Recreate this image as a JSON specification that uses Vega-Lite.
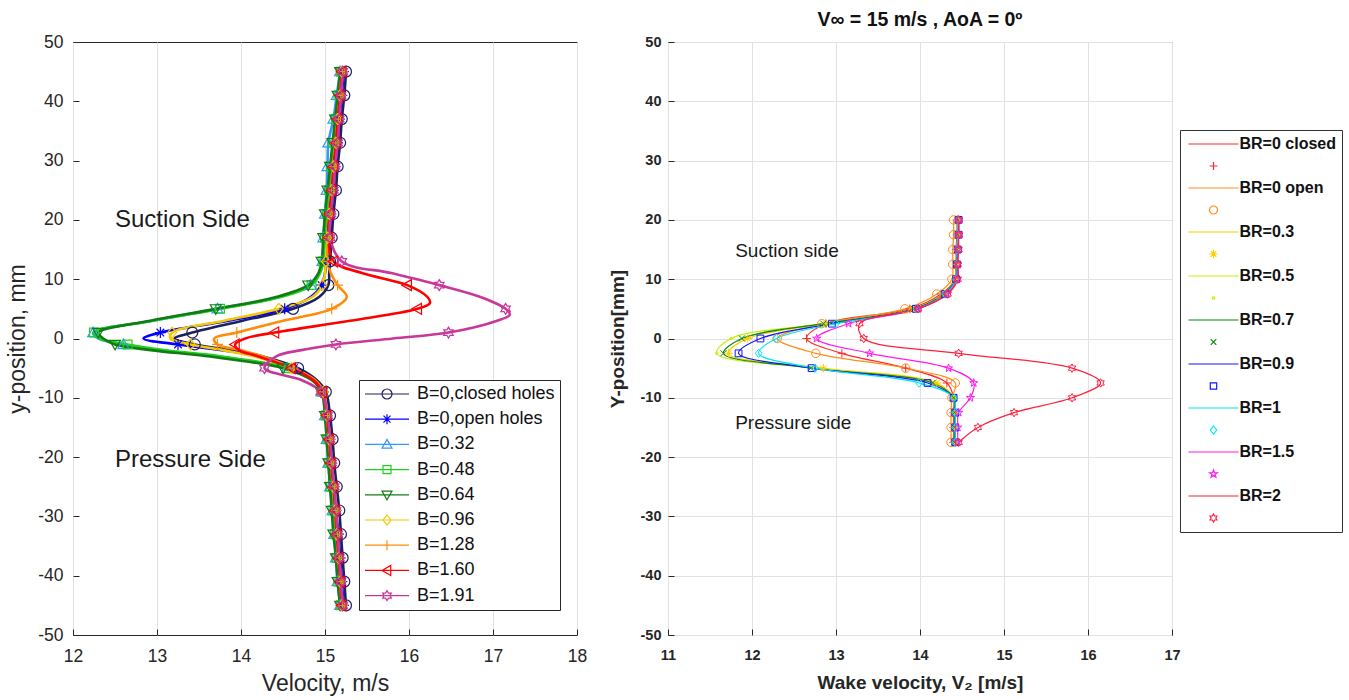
{
"$schema": "https://vega.github.io/schema/vega-lite/v6.json",
"background": "white",
"padding": {"left": 6, "top": 9, "right": 5, "bottom": 3},
"spacing": 19,
"bounds": "full",
"resolve": {"scale": {"color": "independent", "shape": "independent"}, "legend": {"color": "independent", "shape": "independent"}},
"datasets": {
"left": [
{"s":"B=0,closed holes","y":45,"v":15.25,"m":1},{"s":"B=0,closed holes","y":41,"v":15.23,"m":1},{"s":"B=0,closed holes","y":37,"v":15.2,"m":1},{"s":"B=0,closed holes","y":33,"v":15.18,"m":1},{"s":"B=0,closed holes","y":29,"v":15.15,"m":1},{"s":"B=0,closed holes","y":25,"v":15.13,"m":1},{"s":"B=0,closed holes","y":21,"v":15.1,"m":1},{"s":"B=0,closed holes","y":17,"v":15.08,"m":1},{"s":"B=0,closed holes","y":13,"v":15.06,"m":1},{"s":"B=0,closed holes","y":11,"v":15.05,"m":0},{"s":"B=0,closed holes","y":9,"v":15.04,"m":1},{"s":"B=0,closed holes","y":7,"v":14.93,"m":0},{"s":"B=0,closed holes","y":5,"v":14.62,"m":1},{"s":"B=0,closed holes","y":3,"v":14.02,"m":0},{"s":"B=0,closed holes","y":1,"v":13.42,"m":1},{"s":"B=0,closed holes","y":0,"v":13.21,"m":0},{"s":"B=0,closed holes","y":-1,"v":13.45,"m":1},{"s":"B=0,closed holes","y":-2,"v":13.9,"m":0},{"s":"B=0,closed holes","y":-3,"v":14.25,"m":0},{"s":"B=0,closed holes","y":-5,"v":14.68,"m":1},{"s":"B=0,closed holes","y":-7,"v":14.9,"m":0},{"s":"B=0,closed holes","y":-9,"v":15.01,"m":1},{"s":"B=0,closed holes","y":-13,"v":15.06,"m":1},{"s":"B=0,closed holes","y":-17,"v":15.09,"m":1},{"s":"B=0,closed holes","y":-21,"v":15.11,"m":1},{"s":"B=0,closed holes","y":-25,"v":15.14,"m":1},{"s":"B=0,closed holes","y":-29,"v":15.17,"m":1},{"s":"B=0,closed holes","y":-33,"v":15.19,"m":1},{"s":"B=0,closed holes","y":-37,"v":15.21,"m":1},{"s":"B=0,closed holes","y":-41,"v":15.23,"m":1},{"s":"B=0,closed holes","y":-45,"v":15.25,"m":1},
{"s":"B=0,open holes","y":45,"v":15.22,"m":1},{"s":"B=0,open holes","y":41,"v":15.2,"m":1},{"s":"B=0,open holes","y":37,"v":15.17,"m":1},{"s":"B=0,open holes","y":33,"v":15.15,"m":1},{"s":"B=0,open holes","y":29,"v":15.12,"m":1},{"s":"B=0,open holes","y":25,"v":15.1,"m":1},{"s":"B=0,open holes","y":21,"v":15.07,"m":1},{"s":"B=0,open holes","y":17,"v":15.05,"m":1},{"s":"B=0,open holes","y":13,"v":15.02,"m":1},{"s":"B=0,open holes","y":11,"v":15.0,"m":0},{"s":"B=0,open holes","y":9,"v":14.96,"m":1},{"s":"B=0,open holes","y":7,"v":14.83,"m":0},{"s":"B=0,open holes","y":5,"v":14.52,"m":1},{"s":"B=0,open holes","y":3,"v":13.85,"m":0},{"s":"B=0,open holes","y":1,"v":13.04,"m":1},{"s":"B=0,open holes","y":0,"v":12.84,"m":0},{"s":"B=0,open holes","y":-1,"v":13.25,"m":1},{"s":"B=0,open holes","y":-2,"v":13.8,"m":0},{"s":"B=0,open holes","y":-3,"v":14.2,"m":0},{"s":"B=0,open holes","y":-5,"v":14.63,"m":1},{"s":"B=0,open holes","y":-7,"v":14.88,"m":0},{"s":"B=0,open holes","y":-9,"v":14.98,"m":1},{"s":"B=0,open holes","y":-13,"v":15.03,"m":1},{"s":"B=0,open holes","y":-17,"v":15.06,"m":1},{"s":"B=0,open holes","y":-21,"v":15.08,"m":1},{"s":"B=0,open holes","y":-25,"v":15.11,"m":1},{"s":"B=0,open holes","y":-29,"v":15.13,"m":1},{"s":"B=0,open holes","y":-33,"v":15.16,"m":1},{"s":"B=0,open holes","y":-37,"v":15.18,"m":1},{"s":"B=0,open holes","y":-41,"v":15.2,"m":1},{"s":"B=0,open holes","y":-45,"v":15.22,"m":1},
{"s":"B=0.32","y":45,"v":15.18,"m":1},{"s":"B=0.32","y":41,"v":15.14,"m":1},{"s":"B=0.32","y":37,"v":15.1,"m":1},{"s":"B=0.32","y":33,"v":15.04,"m":1},{"s":"B=0.32","y":29,"v":15.03,"m":1},{"s":"B=0.32","y":25,"v":15.02,"m":1},{"s":"B=0.32","y":21,"v":15.0,"m":1},{"s":"B=0.32","y":17,"v":14.98,"m":1},{"s":"B=0.32","y":13,"v":14.97,"m":1},{"s":"B=0.32","y":11,"v":14.93,"m":0},{"s":"B=0.32","y":9,"v":14.83,"m":1},{"s":"B=0.32","y":7,"v":14.45,"m":0},{"s":"B=0.32","y":5,"v":13.72,"m":1},{"s":"B=0.32","y":3,"v":12.95,"m":0},{"s":"B=0.32","y":1,"v":12.24,"m":1},{"s":"B=0.32","y":0,"v":12.3,"m":0},{"s":"B=0.32","y":-1,"v":12.6,"m":1},{"s":"B=0.32","y":-2,"v":13.05,"m":0},{"s":"B=0.32","y":-3,"v":13.7,"m":0},{"s":"B=0.32","y":-5,"v":14.55,"m":1},{"s":"B=0.32","y":-7,"v":14.85,"m":0},{"s":"B=0.32","y":-9,"v":14.96,"m":1},{"s":"B=0.32","y":-13,"v":15.0,"m":1},{"s":"B=0.32","y":-17,"v":15.02,"m":1},{"s":"B=0.32","y":-21,"v":15.04,"m":1},{"s":"B=0.32","y":-25,"v":15.06,"m":1},{"s":"B=0.32","y":-29,"v":15.09,"m":1},{"s":"B=0.32","y":-33,"v":15.11,"m":1},{"s":"B=0.32","y":-37,"v":15.13,"m":1},{"s":"B=0.32","y":-41,"v":15.15,"m":1},{"s":"B=0.32","y":-45,"v":15.18,"m":1},
{"s":"B=0.48","y":45,"v":15.19,"m":1},{"s":"B=0.48","y":41,"v":15.16,"m":1},{"s":"B=0.48","y":37,"v":15.13,"m":1},{"s":"B=0.48","y":33,"v":15.1,"m":1},{"s":"B=0.48","y":29,"v":15.07,"m":1},{"s":"B=0.48","y":25,"v":15.05,"m":1},{"s":"B=0.48","y":21,"v":15.02,"m":1},{"s":"B=0.48","y":17,"v":15.0,"m":1},{"s":"B=0.48","y":13,"v":14.98,"m":1},{"s":"B=0.48","y":11,"v":14.94,"m":0},{"s":"B=0.48","y":9,"v":14.84,"m":1},{"s":"B=0.48","y":7,"v":14.47,"m":0},{"s":"B=0.48","y":5,"v":13.75,"m":1},{"s":"B=0.48","y":3,"v":12.95,"m":0},{"s":"B=0.48","y":1,"v":12.25,"m":1},{"s":"B=0.48","y":0,"v":12.32,"m":0},{"s":"B=0.48","y":-1,"v":12.65,"m":1},{"s":"B=0.48","y":-2,"v":13.1,"m":0},{"s":"B=0.48","y":-3,"v":13.75,"m":0},{"s":"B=0.48","y":-5,"v":14.57,"m":1},{"s":"B=0.48","y":-7,"v":14.86,"m":0},{"s":"B=0.48","y":-9,"v":14.97,"m":1},{"s":"B=0.48","y":-13,"v":15.01,"m":1},{"s":"B=0.48","y":-17,"v":15.03,"m":1},{"s":"B=0.48","y":-21,"v":15.05,"m":1},{"s":"B=0.48","y":-25,"v":15.07,"m":1},{"s":"B=0.48","y":-29,"v":15.1,"m":1},{"s":"B=0.48","y":-33,"v":15.12,"m":1},{"s":"B=0.48","y":-37,"v":15.14,"m":1},{"s":"B=0.48","y":-41,"v":15.16,"m":1},{"s":"B=0.48","y":-45,"v":15.19,"m":1},
{"s":"B=0.64","y":45,"v":15.18,"m":1},{"s":"B=0.64","y":41,"v":15.15,"m":1},{"s":"B=0.64","y":37,"v":15.12,"m":1},{"s":"B=0.64","y":33,"v":15.09,"m":1},{"s":"B=0.64","y":29,"v":15.06,"m":1},{"s":"B=0.64","y":25,"v":15.03,"m":1},{"s":"B=0.64","y":21,"v":15.0,"m":1},{"s":"B=0.64","y":17,"v":14.98,"m":1},{"s":"B=0.64","y":13,"v":14.96,"m":1},{"s":"B=0.64","y":11,"v":14.92,"m":0},{"s":"B=0.64","y":9,"v":14.8,"m":1},{"s":"B=0.64","y":7,"v":14.42,"m":0},{"s":"B=0.64","y":5,"v":13.7,"m":1},{"s":"B=0.64","y":3,"v":12.92,"m":0},{"s":"B=0.64","y":1,"v":12.3,"m":1},{"s":"B=0.64","y":0,"v":12.36,"m":0},{"s":"B=0.64","y":-1,"v":12.5,"m":1},{"s":"B=0.64","y":-2,"v":12.95,"m":0},{"s":"B=0.64","y":-3,"v":13.6,"m":0},{"s":"B=0.64","y":-5,"v":14.5,"m":1},{"s":"B=0.64","y":-7,"v":14.84,"m":0},{"s":"B=0.64","y":-9,"v":14.96,"m":1},{"s":"B=0.64","y":-13,"v":15.0,"m":1},{"s":"B=0.64","y":-17,"v":15.02,"m":1},{"s":"B=0.64","y":-21,"v":15.04,"m":1},{"s":"B=0.64","y":-25,"v":15.06,"m":1},{"s":"B=0.64","y":-29,"v":15.08,"m":1},{"s":"B=0.64","y":-33,"v":15.1,"m":1},{"s":"B=0.64","y":-37,"v":15.13,"m":1},{"s":"B=0.64","y":-41,"v":15.15,"m":1},{"s":"B=0.64","y":-45,"v":15.18,"m":1},
{"s":"B=0.96","y":45,"v":15.2,"m":1},{"s":"B=0.96","y":41,"v":15.18,"m":1},{"s":"B=0.96","y":37,"v":15.15,"m":1},{"s":"B=0.96","y":33,"v":15.13,"m":1},{"s":"B=0.96","y":29,"v":15.1,"m":1},{"s":"B=0.96","y":25,"v":15.08,"m":1},{"s":"B=0.96","y":21,"v":15.05,"m":1},{"s":"B=0.96","y":17,"v":15.03,"m":1},{"s":"B=0.96","y":13,"v":15.01,"m":1},{"s":"B=0.96","y":11,"v":15.0,"m":0},{"s":"B=0.96","y":9,"v":14.97,"m":1},{"s":"B=0.96","y":7,"v":14.85,"m":0},{"s":"B=0.96","y":5,"v":14.45,"m":1},{"s":"B=0.96","y":3,"v":13.8,"m":0},{"s":"B=0.96","y":1,"v":13.18,"m":1},{"s":"B=0.96","y":0,"v":13.16,"m":0},{"s":"B=0.96","y":-1,"v":13.4,"m":1},{"s":"B=0.96","y":-2,"v":13.8,"m":0},{"s":"B=0.96","y":-3,"v":14.15,"m":0},{"s":"B=0.96","y":-5,"v":14.6,"m":1},{"s":"B=0.96","y":-7,"v":14.87,"m":0},{"s":"B=0.96","y":-9,"v":14.98,"m":1},{"s":"B=0.96","y":-13,"v":15.02,"m":1},{"s":"B=0.96","y":-17,"v":15.05,"m":1},{"s":"B=0.96","y":-21,"v":15.07,"m":1},{"s":"B=0.96","y":-25,"v":15.1,"m":1},{"s":"B=0.96","y":-29,"v":15.12,"m":1},{"s":"B=0.96","y":-33,"v":15.14,"m":1},{"s":"B=0.96","y":-37,"v":15.16,"m":1},{"s":"B=0.96","y":-41,"v":15.18,"m":1},{"s":"B=0.96","y":-45,"v":15.2,"m":1},
{"s":"B=1.28","y":45,"v":15.21,"m":1},{"s":"B=1.28","y":41,"v":15.19,"m":1},{"s":"B=1.28","y":37,"v":15.16,"m":1},{"s":"B=1.28","y":33,"v":15.13,"m":1},{"s":"B=1.28","y":29,"v":15.11,"m":1},{"s":"B=1.28","y":25,"v":15.08,"m":1},{"s":"B=1.28","y":21,"v":15.06,"m":1},{"s":"B=1.28","y":17,"v":15.04,"m":1},{"s":"B=1.28","y":13,"v":15.03,"m":1},{"s":"B=1.28","y":11,"v":15.07,"m":0},{"s":"B=1.28","y":9,"v":15.15,"m":1},{"s":"B=1.28","y":7,"v":15.26,"m":0},{"s":"B=1.28","y":5,"v":15.08,"m":1},{"s":"B=1.28","y":3,"v":14.5,"m":0},{"s":"B=1.28","y":1,"v":13.95,"m":1},{"s":"B=1.28","y":0,"v":13.68,"m":0},{"s":"B=1.28","y":-1,"v":13.72,"m":1},{"s":"B=1.28","y":-2,"v":14.0,"m":0},{"s":"B=1.28","y":-3,"v":14.25,"m":0},{"s":"B=1.28","y":-5,"v":14.62,"m":1},{"s":"B=1.28","y":-7,"v":14.88,"m":0},{"s":"B=1.28","y":-9,"v":14.98,"m":1},{"s":"B=1.28","y":-13,"v":15.03,"m":1},{"s":"B=1.28","y":-17,"v":15.06,"m":1},{"s":"B=1.28","y":-21,"v":15.08,"m":1},{"s":"B=1.28","y":-25,"v":15.11,"m":1},{"s":"B=1.28","y":-29,"v":15.13,"m":1},{"s":"B=1.28","y":-33,"v":15.15,"m":1},{"s":"B=1.28","y":-37,"v":15.17,"m":1},{"s":"B=1.28","y":-41,"v":15.19,"m":1},{"s":"B=1.28","y":-45,"v":15.21,"m":1},
{"s":"B=1.60","y":45,"v":15.2,"m":1},{"s":"B=1.60","y":41,"v":15.18,"m":1},{"s":"B=1.60","y":37,"v":15.15,"m":1},{"s":"B=1.60","y":33,"v":15.13,"m":1},{"s":"B=1.60","y":29,"v":15.1,"m":1},{"s":"B=1.60","y":25,"v":15.08,"m":1},{"s":"B=1.60","y":21,"v":15.05,"m":1},{"s":"B=1.60","y":17,"v":15.04,"m":1},{"s":"B=1.60","y":13,"v":15.1,"m":1},{"s":"B=1.60","y":11,"v":15.45,"m":0},{"s":"B=1.60","y":9,"v":15.98,"m":1},{"s":"B=1.60","y":7,"v":16.22,"m":0},{"s":"B=1.60","y":6,"v":16.25,"m":0},{"s":"B=1.60","y":5,"v":16.1,"m":1},{"s":"B=1.60","y":3,"v":15.3,"m":0},{"s":"B=1.60","y":1,"v":14.4,"m":1},{"s":"B=1.60","y":0,"v":14.05,"m":0},{"s":"B=1.60","y":-1,"v":13.93,"m":1},{"s":"B=1.60","y":-2,"v":13.98,"m":0},{"s":"B=1.60","y":-3,"v":14.2,"m":0},{"s":"B=1.60","y":-5,"v":14.6,"m":1},{"s":"B=1.60","y":-7,"v":14.86,"m":0},{"s":"B=1.60","y":-9,"v":14.97,"m":1},{"s":"B=1.60","y":-13,"v":15.02,"m":1},{"s":"B=1.60","y":-17,"v":15.05,"m":1},{"s":"B=1.60","y":-21,"v":15.07,"m":1},{"s":"B=1.60","y":-25,"v":15.1,"m":1},{"s":"B=1.60","y":-29,"v":15.12,"m":1},{"s":"B=1.60","y":-33,"v":15.14,"m":1},{"s":"B=1.60","y":-37,"v":15.16,"m":1},{"s":"B=1.60","y":-41,"v":15.18,"m":1},{"s":"B=1.60","y":-45,"v":15.2,"m":1},
{"s":"B=1.91","y":45,"v":15.21,"m":1},{"s":"B=1.91","y":41,"v":15.19,"m":1},{"s":"B=1.91","y":37,"v":15.17,"m":1},{"s":"B=1.91","y":33,"v":15.15,"m":1},{"s":"B=1.91","y":29,"v":15.12,"m":1},{"s":"B=1.91","y":25,"v":15.1,"m":1},{"s":"B=1.91","y":21,"v":15.07,"m":1},{"s":"B=1.91","y":17,"v":15.06,"m":1},{"s":"B=1.91","y":13,"v":15.2,"m":1},{"s":"B=1.91","y":11,"v":15.8,"m":0},{"s":"B=1.91","y":9,"v":16.36,"m":1},{"s":"B=1.91","y":7,"v":16.85,"m":0},{"s":"B=1.91","y":5,"v":17.15,"m":1},{"s":"B=1.91","y":4,"v":17.2,"m":0},{"s":"B=1.91","y":3,"v":17.05,"m":0},{"s":"B=1.91","y":1,"v":16.47,"m":1},{"s":"B=1.91","y":0,"v":15.81,"m":0},{"s":"B=1.91","y":-1,"v":15.13,"m":1},{"s":"B=1.91","y":-2,"v":14.7,"m":0},{"s":"B=1.91","y":-3,"v":14.42,"m":0},{"s":"B=1.91","y":-5,"v":14.28,"m":1},{"s":"B=1.91","y":-7,"v":14.72,"m":0},{"s":"B=1.91","y":-9,"v":14.95,"m":1},{"s":"B=1.91","y":-13,"v":15.03,"m":1},{"s":"B=1.91","y":-17,"v":15.06,"m":1},{"s":"B=1.91","y":-21,"v":15.08,"m":1},{"s":"B=1.91","y":-25,"v":15.11,"m":1},{"s":"B=1.91","y":-29,"v":15.13,"m":1},{"s":"B=1.91","y":-33,"v":15.15,"m":1},{"s":"B=1.91","y":-37,"v":15.17,"m":1},{"s":"B=1.91","y":-41,"v":15.19,"m":1},{"s":"B=1.91","y":-45,"v":15.21,"m":1}
],
"right": [
{"s":"BR=0 closed","y":20,"v":14.44},{"s":"BR=0 closed","y":17.5,"v":14.44},{"s":"BR=0 closed","y":15,"v":14.43},{"s":"BR=0 closed","y":12.5,"v":14.43},{"s":"BR=0 closed","y":10,"v":14.42},{"s":"BR=0 closed","y":7.5,"v":14.25},{"s":"BR=0 closed","y":5,"v":13.88},{"s":"BR=0 closed","y":2.5,"v":12.88},{"s":"BR=0 closed","y":0,"v":12.65},{"s":"BR=0 closed","y":-2.5,"v":13.07},{"s":"BR=0 closed","y":-5,"v":13.83},{"s":"BR=0 closed","y":-7.5,"v":14.32},{"s":"BR=0 closed","y":-10,"v":14.4},{"s":"BR=0 closed","y":-12.5,"v":14.4},{"s":"BR=0 closed","y":-15,"v":14.4},{"s":"BR=0 closed","y":-17.5,"v":14.4},
{"s":"BR=0 open","y":20,"v":14.4},{"s":"BR=0 open","y":17.5,"v":14.4},{"s":"BR=0 open","y":15,"v":14.39},{"s":"BR=0 open","y":12.5,"v":14.39},{"s":"BR=0 open","y":10,"v":14.38},{"s":"BR=0 open","y":7.5,"v":14.2},{"s":"BR=0 open","y":5,"v":13.82},{"s":"BR=0 open","y":2.5,"v":12.83},{"s":"BR=0 open","y":0,"v":12.3},{"s":"BR=0 open","y":-2.5,"v":12.76},{"s":"BR=0 open","y":-5,"v":13.83},{"s":"BR=0 open","y":-7.5,"v":14.42},{"s":"BR=0 open","y":-10,"v":14.38},{"s":"BR=0 open","y":-12.5,"v":14.37},{"s":"BR=0 open","y":-15,"v":14.37},{"s":"BR=0 open","y":-17.5,"v":14.37},
{"s":"BR=0.3","y":20,"v":14.45},{"s":"BR=0.3","y":17.5,"v":14.45},{"s":"BR=0.3","y":15,"v":14.44},{"s":"BR=0.3","y":12.5,"v":14.43},{"s":"BR=0.3","y":10,"v":14.42},{"s":"BR=0.3","y":7.5,"v":14.28},{"s":"BR=0.3","y":5,"v":13.92},{"s":"BR=0.3","y":2.5,"v":12.88},{"s":"BR=0.3","y":0,"v":11.95},{"s":"BR=0.3","y":-2.5,"v":11.72},{"s":"BR=0.3","y":-5,"v":12.85},{"s":"BR=0.3","y":-7.5,"v":14.2},{"s":"BR=0.3","y":-10,"v":14.4},{"s":"BR=0.3","y":-12.5,"v":14.41},{"s":"BR=0.3","y":-15,"v":14.41},{"s":"BR=0.3","y":-17.5,"v":14.41},
{"s":"BR=0.5","y":20,"v":14.45},{"s":"BR=0.5","y":17.5,"v":14.45},{"s":"BR=0.5","y":15,"v":14.44},{"s":"BR=0.5","y":12.5,"v":14.43},{"s":"BR=0.5","y":10,"v":14.42},{"s":"BR=0.5","y":7.5,"v":14.28},{"s":"BR=0.5","y":5,"v":13.92},{"s":"BR=0.5","y":2.5,"v":12.85},{"s":"BR=0.5","y":0,"v":11.75},{"s":"BR=0.5","y":-2.5,"v":11.58},{"s":"BR=0.5","y":-5,"v":12.72},{"s":"BR=0.5","y":-7.5,"v":14.15},{"s":"BR=0.5","y":-10,"v":14.4},{"s":"BR=0.5","y":-12.5,"v":14.41},{"s":"BR=0.5","y":-15,"v":14.41},{"s":"BR=0.5","y":-17.5,"v":14.41},
{"s":"BR=0.7","y":20,"v":14.45},{"s":"BR=0.7","y":17.5,"v":14.45},{"s":"BR=0.7","y":15,"v":14.44},{"s":"BR=0.7","y":12.5,"v":14.43},{"s":"BR=0.7","y":10,"v":14.42},{"s":"BR=0.7","y":7.5,"v":14.28},{"s":"BR=0.7","y":5,"v":13.93},{"s":"BR=0.7","y":2.5,"v":12.85},{"s":"BR=0.7","y":0,"v":11.88},{"s":"BR=0.7","y":-2.5,"v":11.66},{"s":"BR=0.7","y":-5,"v":12.7},{"s":"BR=0.7","y":-7.5,"v":14.15},{"s":"BR=0.7","y":-10,"v":14.4},{"s":"BR=0.7","y":-12.5,"v":14.41},{"s":"BR=0.7","y":-15,"v":14.41},{"s":"BR=0.7","y":-17.5,"v":14.41},
{"s":"BR=0.9","y":20,"v":14.46},{"s":"BR=0.9","y":17.5,"v":14.46},{"s":"BR=0.9","y":15,"v":14.45},{"s":"BR=0.9","y":12.5,"v":14.44},{"s":"BR=0.9","y":10,"v":14.43},{"s":"BR=0.9","y":7.5,"v":14.3},{"s":"BR=0.9","y":5,"v":13.95},{"s":"BR=0.9","y":2.5,"v":12.95},{"s":"BR=0.9","y":0,"v":12.1},{"s":"BR=0.9","y":-2.5,"v":11.84},{"s":"BR=0.9","y":-5,"v":12.71},{"s":"BR=0.9","y":-7.5,"v":14.09},{"s":"BR=0.9","y":-10,"v":14.4},{"s":"BR=0.9","y":-12.5,"v":14.42},{"s":"BR=0.9","y":-15,"v":14.42},{"s":"BR=0.9","y":-17.5,"v":14.42},
{"s":"BR=1","y":20,"v":14.45},{"s":"BR=1","y":17.5,"v":14.45},{"s":"BR=1","y":15,"v":14.44},{"s":"BR=1","y":12.5,"v":14.44},{"s":"BR=1","y":10,"v":14.43},{"s":"BR=1","y":7.5,"v":14.3},{"s":"BR=1","y":5,"v":13.96},{"s":"BR=1","y":2.5,"v":13.0},{"s":"BR=1","y":0,"v":12.29},{"s":"BR=1","y":-2.5,"v":12.08},{"s":"BR=1","y":-5,"v":12.75},{"s":"BR=1","y":-7.5,"v":13.99},{"s":"BR=1","y":-10,"v":14.4},{"s":"BR=1","y":-12.5,"v":14.42},{"s":"BR=1","y":-15,"v":14.42},{"s":"BR=1","y":-17.5,"v":14.42},
{"s":"BR=1.5","y":20,"v":14.46},{"s":"BR=1.5","y":17.5,"v":14.46},{"s":"BR=1.5","y":15,"v":14.45},{"s":"BR=1.5","y":12.5,"v":14.45},{"s":"BR=1.5","y":10,"v":14.44},{"s":"BR=1.5","y":7.5,"v":14.32},{"s":"BR=1.5","y":5,"v":13.98},{"s":"BR=1.5","y":2.5,"v":13.15},{"s":"BR=1.5","y":0,"v":12.77},{"s":"BR=1.5","y":-2.5,"v":13.4},{"s":"BR=1.5","y":-5,"v":14.34},{"s":"BR=1.5","y":-7.5,"v":14.64},{"s":"BR=1.5","y":-10,"v":14.6},{"s":"BR=1.5","y":-12.5,"v":14.46},{"s":"BR=1.5","y":-15,"v":14.45},{"s":"BR=1.5","y":-17.5,"v":14.45},
{"s":"BR=2","y":20,"v":14.46},{"s":"BR=2","y":17.5,"v":14.46},{"s":"BR=2","y":15,"v":14.46},{"s":"BR=2","y":12.5,"v":14.45},{"s":"BR=2","y":10,"v":14.45},{"s":"BR=2","y":7.5,"v":14.33},{"s":"BR=2","y":5,"v":13.98},{"s":"BR=2","y":2.5,"v":13.28},{"s":"BR=2","y":0,"v":13.33},{"s":"BR=2","y":-2.5,"v":14.46},{"s":"BR=2","y":-5,"v":15.81},{"s":"BR=2","y":-7.5,"v":16.15},{"s":"BR=2","y":-10,"v":15.81},{"s":"BR=2","y":-12.5,"v":15.12},{"s":"BR=2","y":-15,"v":14.69},{"s":"BR=2","y":-17.5,"v":14.46}
]
},
"hconcat": [
{
"width": 504, "height": 593,
"title": {"text": " ", "fontSize": 18, "fontWeight": "bold", "font": "Liberation Sans", "offset": 1},
"layer": [
{"data": {"name": "left"},
 "mark": {"type": "line", "interpolate": "catmull-rom", "strokeWidth": 2.6},
 "encoding": {
  "x": {"field": "v", "type": "quantitative", "scale": {"domain": [12, 18], "nice": false, "zero": false},
        "axis": {"title": "Velocity, m/s", "values": [12,13,14,15,16,17,18], "labelExpr": "'' + datum.value", "grid": true, "labelFontSize": 17.5, "labelPadding": 18, "titleFontSize": 23, "titlePadding": 8}},
  "y": {"field": "y", "type": "quantitative", "scale": {"domain": [-50, 50], "nice": false, "zero": false},
        "axis": {"title": "y-position, mm", "values": [-50,-40,-30,-20,-10,0,10,20,30,40,50], "labelExpr": "'' + datum.value", "grid": false, "labelFontSize": 17.5, "labelPadding": 16, "titleFontSize": 23, "titlePadding": 8}},
  "color": {"field": "s", "type": "nominal",
    "scale": {"domain": ["B=0,closed holes","B=0,open holes","B=0.32","B=0.48","B=0.64","B=0.96","B=1.28","B=1.60","B=1.91"],
              "range": ["#1c215f","#0000ff","#3399ff","#1ed21e","#137b13","#f5c800","#ff8c0a","#ff0000","#c8389b"]},
    "legend": {"title": null, "orient": "none", "legendX": 286, "legendY": 338, "padding": 5, "strokeColor": "#262626", "fillColor": "white",
      "labelFont": "Liberation Sans", "labelFontSize": 18, "labelColor": "#111111", "labelLimit": 300,
      "symbolSize": 100, "symbolStrokeWidth": 1.2, "symbolOffset": 14, "labelOffset": 21, "rowPadding": 7.2,
      "encode": {"symbols": {"update": {
        "shape": {"signal": "datum.value==='B=0,closed holes'?'M-4.4,0H4.4M1,0A1,1 0 1,1 -1,0A1,1 0 1,1 1,0Z':datum.value==='B=0,open holes'?'M-4.4,0H4.4M-1,0H1M0,-1V1M-0.7,-0.7L0.7,0.7M-0.7,0.7L0.7,-0.7':datum.value==='B=0.32'?'M-4.4,0H4.4M0,-1L1,0.75L-1,0.75Z':datum.value==='B=0.48'?'M-4.4,0H4.4M-0.8,-0.8H0.8V0.8H-0.8Z':datum.value==='B=0.64'?'M-4.4,0H4.4M0,1L1,-0.75L-1,-0.75Z':datum.value==='B=0.96'?'M-4.4,0H4.4M0,-1L0.8,0L0,1L-0.8,0Z':datum.value==='B=1.28'?'M-4.4,0H4.4M-1,0H1M0,-1V1':datum.value==='B=1.60'?'M-4.4,0H4.4M-1,0L0.75,-1L0.75,1Z':'M-4.4,0H4.4M0,-1L0.289,-0.5L0.866,-0.5L0.577,0L0.866,0.5L0.289,0.5L0,1L-0.289,0.5L-0.866,0.5L-0.577,0L-0.866,-0.5L-0.289,-0.5Z'"},
        "stroke": {"signal": "datum.value==='B=0,closed holes'?'#1c215f':datum.value==='B=0,open holes'?'#0000ff':datum.value==='B=0.32'?'#3399ff':datum.value==='B=0.48'?'#1ed21e':datum.value==='B=0.64'?'#137b13':datum.value==='B=0.96'?'#f5c800':datum.value==='B=1.28'?'#ff8c0a':datum.value==='B=1.60'?'#ff0000':'#c8389b'"},
        "fill": {"value": "transparent"}, "strokeWidth": {"value": 1.2}, "opacity": {"value": 1}}}}}},
  "order": {"field": "y", "type": "quantitative"}
 }},
{"data": {"name": "left"},
 "transform": [{"filter": "datum.m == 1"}],
 "mark": {"type": "point", "filled": false, "opacity": 1, "strokeWidth": 1.2, "size": 120},
 "encoding": {
  "x": {"field": "v", "type": "quantitative"},
  "y": {"field": "y", "type": "quantitative"},
  "color": {"field": "s", "type": "nominal"},
  "shape": {"field": "s", "type": "nominal", "legend": null,
    "scale": {"domain": ["B=1.91","B=1.60","B=1.28","B=0.96","B=0.64","B=0.48","B=0.32","B=0,open holes","B=0,closed holes"],
      "range": ["M0,-1L0.289,-0.5L0.866,-0.5L0.577,0L0.866,0.5L0.289,0.5L0,1L-0.289,0.5L-0.866,0.5L-0.577,0L-0.866,-0.5L-0.289,-0.5Z","M-1,0L0.75,-1L0.75,1Z","M-1,0H1M0,-1V1","M0,-1L0.8,0L0,1L-0.8,0Z","M0,1L1,-0.75L-1,-0.75Z","M-0.8,-0.8H0.8V0.8H-0.8Z","M0,-1L1,0.75L-1,0.75Z","M-1,0H1M0,-1V1M-0.7,-0.7L0.7,0.7M-0.7,0.7L0.7,-0.7","M1,0A1,1 0 1,1 -1,0A1,1 0 1,1 1,0Z"]}}
 }},
{"data": {"values": [{"v": 12.5, "y": 20, "t": "Suction Side"}, {"v": 12.5, "y": -20.5, "t": "Pressure Side"}]},
 "mark": {"type": "text", "align": "left", "baseline": "middle", "fontSize": 24, "font": "Liberation Sans", "color": "#1a1a1a"},
 "encoding": {"x": {"field": "v", "type": "quantitative"}, "y": {"field": "y", "type": "quantitative"}, "text": {"field": "t"}}}
]
},
{
"width": 504, "height": 593,
"title": {"text": "V∞ = 15 m/s , AoA = 0º", "fontSize": 19.5, "fontWeight": "bold", "font": "Liberation Sans", "color": "#111111", "offset": 4, "anchor": "middle"},
"layer": [
{"data": {"name": "right"},
 "mark": {"type": "line", "interpolate": "catmull-rom", "strokeWidth": 1.2},
 "encoding": {
  "x": {"field": "v", "type": "quantitative", "scale": {"domain": [11, 17], "nice": false, "zero": false},
        "axis": {"title": "Wake velocity, V₂ [m/s]", "values": [11,12,13,14,15,16,17], "labelExpr": "'' + datum.value", "grid": true, "labelFontSize": 14.5, "labelFontWeight": "bold", "labelPadding": 19, "titleFontSize": 19, "titleFontWeight": "bold", "titlePadding": 12}},
  "y": {"field": "y", "type": "quantitative", "scale": {"domain": [-50, 50], "nice": false, "zero": false},
        "axis": {"title": "Y-position[mm]", "values": [-50,-40,-30,-20,-10,0,10,20,30,40,50], "labelExpr": "'' + datum.value", "grid": true, "labelFontSize": 14.5, "labelFontWeight": "bold", "labelPadding": 13, "titleFontSize": 19, "titleFontWeight": "bold", "titlePadding": 13}},
  "color": {"field": "s", "type": "nominal",
    "scale": {"domain": ["BR=0 closed","BR=0 closed|m","BR=0 open","BR=0 open|m","BR=0.3","BR=0.3|m","BR=0.5","BR=0.5|m","BR=0.7","BR=0.7|m","BR=0.9","BR=0.9|m","BR=1","BR=1|m","BR=1.5","BR=1.5|m","BR=2","BR=2|m"],
              "range": ["#ff2a2a","#ff2a2a","#ff8c1a","#ff8c1a","#ffcc00","#ffcc00","#c4f000","#c4f000","#0a8a0a","#0a8a0a","#1515ff","#1515ff","#00e5f0","#00e5f0","#ff1aee","#ff1aee","#ff1f3d","#ff1f3d"]},
    "legend": {"title": null, "orient": "none", "legendX": 512, "legendY": 88, "padding": 6, "strokeColor": "#333333", "fillColor": "white",
      "labelFont": "Liberation Sans", "labelFontSize": 16, "labelFontWeight": "bold", "labelColor": "#111111", "labelLimit": 300,
      "labelExpr": "indexof(datum.label,'|m')>=0 ? ' ' : datum.label",
      "symbolSize": 64, "symbolStrokeWidth": 1.2, "symbolOffset": 19.5, "labelOffset": 18, "rowPadding": 6,
      "encode": {"symbols": {"update": {
        "shape": {"signal": "indexof(datum.value,'|m')<0?'M-6.25,0H6.25':datum.value==='BR=0 closed|m'?'M-1,0H1M0,-1V1':datum.value==='BR=0 open|m'?'M1,0A1,1 0 1,1 -1,0A1,1 0 1,1 1,0Z':datum.value==='BR=0.3|m'?'M-1,0H1M0,-1V1M-0.7,-0.7L0.7,0.7M-0.7,0.7L0.7,-0.7':datum.value==='BR=0.5|m'?'M0.3,0A0.3,0.3 0 1,1 -0.3,0A0.3,0.3 0 1,1 0.3,0Z':datum.value==='BR=0.7|m'?'M-0.7,-0.7L0.7,0.7M-0.7,0.7L0.7,-0.7':datum.value==='BR=0.9|m'?'M-0.8,-0.8H0.8V0.8H-0.8Z':datum.value==='BR=1|m'?'M0,-1L0.8,0L0,1L-0.8,0Z':datum.value==='BR=1.5|m'?'M0,-1L0.223,-0.307L0.951,-0.309L0.361,0.117L0.588,0.809L0,0.38L-0.588,0.809L-0.361,0.117L-0.951,-0.309L-0.223,-0.307Z':'M0,-1L0.289,-0.5L0.866,-0.5L0.577,0L0.866,0.5L0.289,0.5L0,1L-0.289,0.5L-0.866,0.5L-0.577,0L-0.866,-0.5L-0.289,-0.5Z'"},
        "stroke": {"signal": "indexof(datum.value,'BR=0 closed')==0?'#ff2a2a':indexof(datum.value,'BR=0 open')==0?'#ff8c1a':indexof(datum.value,'BR=0.3')==0?'#ffcc00':indexof(datum.value,'BR=0.5')==0?'#c4f000':indexof(datum.value,'BR=0.7')==0?'#0a8a0a':indexof(datum.value,'BR=0.9')==0?'#1515ff':indexof(datum.value,'BR=1.5')==0?'#ff1aee':indexof(datum.value,'BR=1')==0?'#00e5f0':'#ff1f3d'"},
        "fill": {"value": "transparent"}, "strokeWidth": {"value": 1.2}, "opacity": {"value": 1}}}}}},
  "order": {"field": "y", "type": "quantitative"}
 }},
{"data": {"name": "right"},
 "mark": {"type": "point", "filled": false, "opacity": 1, "strokeWidth": 1, "size": 72},
 "encoding": {
  "x": {"field": "v", "type": "quantitative"},
  "y": {"field": "y", "type": "quantitative"},
  "color": {"field": "s", "type": "nominal"},
  "shape": {"field": "s", "type": "nominal", "legend": null,
    "scale": {"domain": ["BR=0 closed","BR=0 open","BR=0.3","BR=0.5","BR=0.7","BR=0.9","BR=1","BR=1.5","BR=2"],
      "range": ["M-1,0H1M0,-1V1","M1,0A1,1 0 1,1 -1,0A1,1 0 1,1 1,0Z","M-1,0H1M0,-1V1M-0.7,-0.7L0.7,0.7M-0.7,0.7L0.7,-0.7","M0.3,0A0.3,0.3 0 1,1 -0.3,0A0.3,0.3 0 1,1 0.3,0Z","M-0.7,-0.7L0.7,0.7M-0.7,0.7L0.7,-0.7","M-0.8,-0.8H0.8V0.8H-0.8Z","M0,-1L0.8,0L0,1L-0.8,0Z","M0,-1L0.223,-0.307L0.951,-0.309L0.361,0.117L0.588,0.809L0,0.38L-0.588,0.809L-0.361,0.117L-0.951,-0.309L-0.223,-0.307Z","M0,-1L0.289,-0.5L0.866,-0.5L0.577,0L0.866,0.5L0.289,0.5L0,1L-0.289,0.5L-0.866,0.5L-0.577,0L-0.866,-0.5L-0.289,-0.5Z"]}}
 }},
{"data": {"values": [{"v": 11.8, "y": 14.7, "t": "Suction side"}, {"v": 11.8, "y": -14.3, "t": "Pressure side"}]},
 "mark": {"type": "text", "align": "left", "baseline": "middle", "fontSize": 19, "font": "Liberation Sans", "color": "#1a1a1a"},
 "encoding": {"x": {"field": "v", "type": "quantitative"}, "y": {"field": "y", "type": "quantitative"}, "text": {"field": "t"}}}
]
}
],
"config": {
 "view": {"stroke": "#262626", "strokeWidth": 1},
 "font": "Liberation Sans",
 "axis": {"labelFont": "Liberation Sans", "titleFont": "Liberation Sans", "titleFontWeight": "normal", "domain": false, "ticks": true, "tickSize": -6, "tickColor": "#262626", "labelColor": "#262626", "titleColor": "#262626", "labelFlush": false, "labelOverlap": false, "gridColor": "#e2e2e2", "gridWidth": 1}
}
}
